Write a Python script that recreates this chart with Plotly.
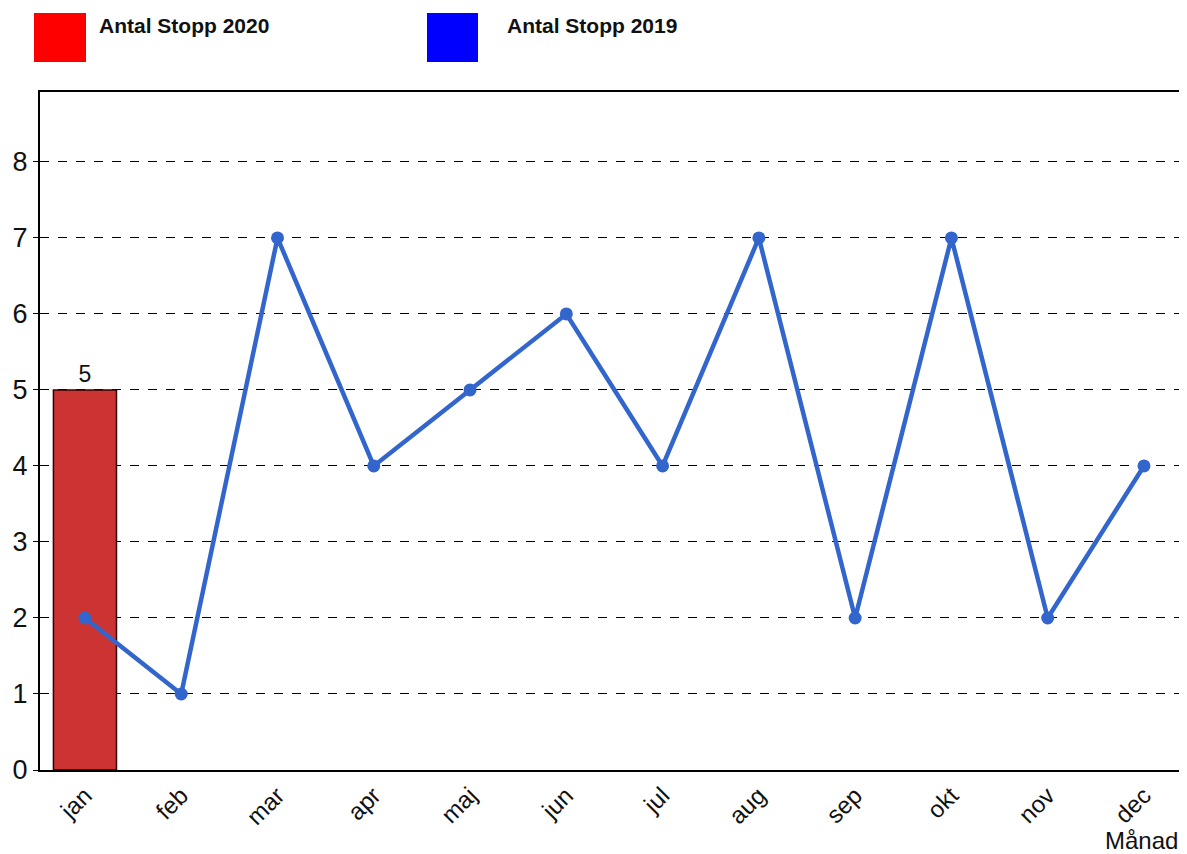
import plotly.graph_objects as go

months = ["jan", "feb", "mar", "apr", "maj", "jun", "jul", "aug", "sep", "okt", "nov", "dec"]
stopp_2020 = [5]
stopp_2019 = [2, 1, 7, 4, 5, 6, 4, 7, 2, 7, 2, 4]
y_ticks = [0, 1, 2, 3, 4, 5, 6, 7, 8]

OFF = 8  # page body margin
W, H = 1187 - OFF, 854 - OFF
L, T = 40 - OFF, 92 - OFF
R = 0
B = H - (770 - OFF)
pw, ph = W - L - R, H - T - B

def px(x):
    return (x - OFF - L) / pw

def py(y):
    return (H - B - (y - OFF)) / ph

fig = go.Figure()
fig.add_trace(go.Bar(
    x=months[:len(stopp_2020)], y=stopp_2020, name="Antal Stopp 2020",
    marker=dict(color="#CC3333", line=dict(color="#330000", width=1.5)),
    width=0.655, text=[str(v) for v in stopp_2020], textposition="outside",
    textfont=dict(size=23, color="#111111", family="Arial"), cliponaxis=False,
    showlegend=False,
))
fig.add_trace(go.Scatter(
    x=months, y=stopp_2019, name="Antal Stopp 2019", mode="lines+markers",
    line=dict(color="#3366CC", width=4.5), marker=dict(color="#3366CC", size=13),
    showlegend=False,
))

fig.update_layout(
    width=W, height=H, margin=dict(l=L, r=R, t=T, b=B),
    paper_bgcolor="white", plot_bgcolor="white",
    font=dict(family="Arial, Liberation Sans", color="#111111"),
    xaxis=dict(
        categoryorder="array", categoryarray=months, range=[-0.467, 11.447],
        showline=True, linecolor="black", linewidth=2, mirror=True,
        tickangle=-45, tickfont=dict(size=24), showgrid=False, ticks="",
    ),
    yaxis=dict(
        range=[0, 8.92], tickvals=y_ticks, showline=True, linecolor="black", linewidth=2,
        showgrid=True, gridcolor="black", gridwidth=1, griddash="dash",
        tickfont=dict(size=27), ticks="outside", ticklen=5, tickcolor="black",
        zeroline=False,
    ),
    shapes=[
        dict(type="rect", xref="paper", yref="paper", x0=px(34), x1=px(86), y0=py(62), y1=py(13),
             fillcolor="#FF0000", line=dict(width=0)),
        dict(type="rect", xref="paper", yref="paper", x0=px(427), x1=px(478), y0=py(62), y1=py(13),
             fillcolor="#0000FF", line=dict(width=0)),
    ],
    annotations=[
        dict(text="<b>Antal Stopp 2020</b>", xref="paper", yref="paper", x=px(97), y=py(25),
             xanchor="left", yanchor="middle", showarrow=False, font=dict(size=21, color="#111111")),
        dict(text="<b>Antal Stopp 2019</b>", xref="paper", yref="paper", x=px(505), y=py(25),
             xanchor="left", yanchor="middle", showarrow=False, font=dict(size=21, color="#111111")),
        dict(text="Månad", xref="paper", yref="paper", x=px(1180), y=py(840),
             xanchor="right", yanchor="middle", showarrow=False, font=dict(size=24, color="#111111")),
    ],
)

fig.write_html("out.html")
